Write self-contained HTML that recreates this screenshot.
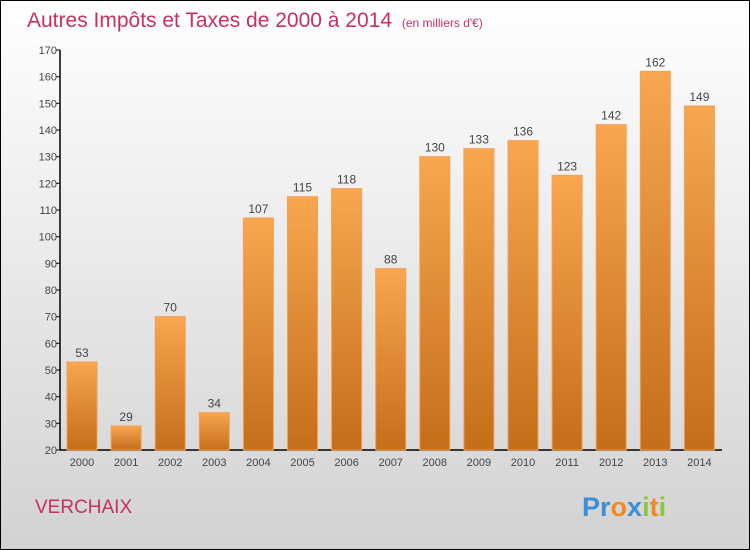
<!DOCTYPE html>
<html><head><meta charset="utf-8"><style>
body{margin:0}
svg{display:block;font-family:"Liberation Sans",sans-serif}
</style></head><body>
<svg width="750" height="550" xmlns="http://www.w3.org/2000/svg">
<defs>
<linearGradient id="bg" x1="0" y1="0" x2="0" y2="1"><stop offset="0" stop-color="#ffffff"/><stop offset="1" stop-color="#d2d2d2"/></linearGradient>
<linearGradient id="bar" x1="0" y1="0" x2="0" y2="1"><stop offset="0" stop-color="#f8a650"/><stop offset="1" stop-color="#c46e1a"/></linearGradient>
</defs>
<rect x="0.5" y="0.5" width="749" height="549" fill="url(#bg)" stroke="#000"/>
<text x="27" y="27" font-size="21" fill="#c8305e">Autres Impôts et Taxes de 2000 à 2014 <tspan font-size="12" dx="4">(en milliers d'€)</tspan></text>
<text x="35" y="513" font-size="19" fill="#c8305e">VERCHAIX</text>
<g font-size="27" font-weight="bold">
<text x="582" y="516"><tspan fill="#3a8fd8">Pr</tspan><tspan fill="#f08a20">o</tspan><tspan fill="#3a8fd8">x</tspan><tspan fill="#8cc63f">i</tspan><tspan fill="#f08a20">t</tspan><tspan fill="#8cc63f">i</tspan></text>
</g>
<g id="axes"></g>
<g id="bars"></g>
</svg>
<script>
const years=["2000","2001","2002","2003","2004","2005","2006","2007","2008","2009","2010","2011","2012","2013","2014"];
const values=[53,29,70,34,107,115,118,88,130,133,136,123,142,162,149];
const yTicks=[20,30,40,50,60,70,80,90,100,110,120,130,140,150,160,170];
const NS="http://www.w3.org/2000/svg";
const yMin=20,yMax=170,plotTop=50,plotBot=450,x0=60;
const yS=v=>plotBot-(v-yMin)/(yMax-yMin)*(plotBot-plotTop);
const xc=i=>82+i*44.1;
function mk(t,a,p){const e=document.createElementNS(NS,t);for(const k in a)e.setAttribute(k,a[k]);p.appendChild(e);return e;}
const ax=document.getElementById('axes'),bs=document.getElementById('bars');
const yl=mk('line',{x1:x0,y1:plotTop,x2:x0,y2:plotBot,stroke:'#000','stroke-width':1.5},ax);


const xl=mk('line',{x1:x0,y1:plotBot,x2:722,y2:plotBot,stroke:'#000','stroke-width':1.5},ax);


yTicks.forEach(v=>{
 mk('line',{x1:x0-4,y1:yS(v),x2:x0,y2:yS(v),stroke:'#000'},ax);
 const t=mk('text',{x:x0-3,y:yS(v)+4,'text-anchor':'end','font-size':11,fill:'#444'},ax);
 t.textContent=v;
 
 
});
years.forEach((yr,i)=>{
 const v=values[i],cx=xc(i);
 const r=mk('rect',{x:cx-15,y:yS(v),width:30,height:plotBot-yS(v),fill:'url(#bar)',stroke:'#f5a050','stroke-width':1},bs);
 
 
 const l=mk('text',{x:cx,y:yS(v)-5,'text-anchor':'middle','font-size':12,fill:'#444'},bs);
 l.textContent=v;
 
 
 const t=mk('text',{x:cx,y:466,'text-anchor':'middle','font-size':11,fill:'#444'},ax);
 t.textContent=yr;
 
 
});
</script>
</body></html>
